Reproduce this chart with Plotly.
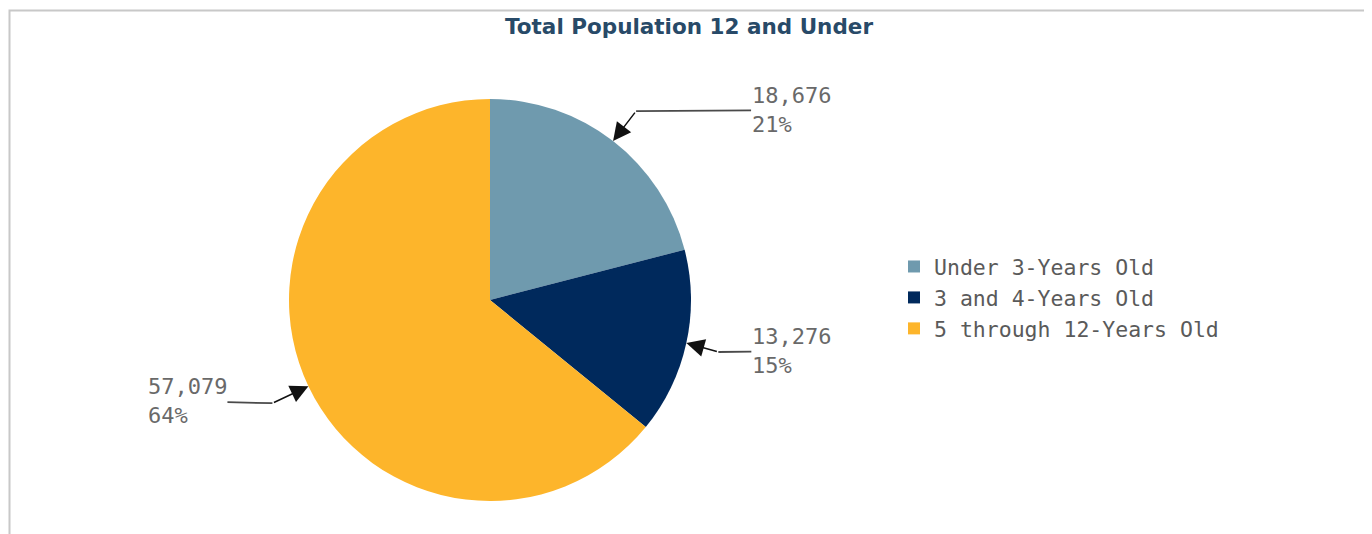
import math
import plotly.graph_objects as go

# ---- data ----
categories = ["Under 3-Years Old", "3 and 4-Years Old", "5 through 12-Years Old"]
values = [18676, 13276, 57079]
colors = ["#6f9aae", "#00295c", "#fdb52b"]
title_text = "Total Population 12 and Under"

# ---- layout constants (pixels in the page; the page body has an 8px margin) ----
W, H = 1372, 534
OX, OY = 8, 8
CX, CY, R = 490, 300, 201
# elbow offsets from arrow tip, and text-box offsets from elbow (label placement)
elbow_off = [(23, -30), (32, 9), (-36, 17)]
text_off = [(155, -1), (73, -1), (-85, -2)]

LABEL_FONT = dict(family="DejaVu Sans Mono", size=22, color="#696969")


def px(x):
    return (x - OX) / W


def py(y):
    return 1 - (y - OY) / H


fig = go.Figure()
fig.add_trace(go.Pie(
    labels=categories,
    values=values,
    marker=dict(colors=colors, line=dict(width=0)),
    sort=False,
    direction="clockwise",
    rotation=0,
    textinfo="none",
    hoverinfo="label+value+percent",
    domain=dict(x=[px(CX - R), px(CX + R)], y=[py(CY + R), py(CY - R)]),
))

total = sum(values)
cum = 0
annotations = []
for i, v in enumerate(values):
    mid = (cum + v / 2) / total * 2 * math.pi
    cum += v
    tx = CX + R * math.sin(mid)
    ty = CY - R * math.cos(mid)
    ex, ey = tx + elbow_off[i][0], ty + elbow_off[i][1]
    # arrow from elbow to slice edge
    annotations.append(dict(
        x=px(tx), y=py(ty), xref="paper", yref="paper",
        ax=elbow_off[i][0], ay=elbow_off[i][1],
        text="", showarrow=True, arrowhead=2, arrowsize=2.4,
        arrowwidth=1.5, arrowcolor="#111111", standoff=0,
    ))
    # label text with horizontal leader to the elbow
    annotations.append(dict(
        x=px(ex), y=py(ey), xref="paper", yref="paper",
        ax=text_off[i][0], ay=text_off[i][1],
        text=f"{v:,}<br>{round(100 * v / total)}%",
        align="left", font=LABEL_FONT,
        showarrow=True, arrowhead=0, arrowwidth=1.8, arrowcolor="#4a4a4a",
        standoff=0, borderpad=0,
    ))

fig.update_layout(
    width=W, height=H, autosize=False,
    margin=dict(l=0, r=0, t=0, b=0),
    paper_bgcolor="white", plot_bgcolor="white",
    title=dict(text=f"<b>{title_text}</b>", x=px(689), xanchor="center",
               y=py(26), yanchor="middle",
               font=dict(family="DejaVu Sans", size=21.5, color="#284a68")),
    showlegend=True,
    legend=dict(x=px(894), y=py(246), xanchor="left", yanchor="top",
                font=dict(family="DejaVu Sans Mono", size=21.5, color="#5a5a5a"),
                bgcolor="rgba(0,0,0,0)", itemwidth=30, tracegroupgap=0),
    annotations=annotations,
    shapes=[dict(type="rect", xref="paper", yref="paper",
                 x0=px(9.5), x1=px(1366), y0=-0.1, y1=py(10.5),
                 line=dict(color="#c8c8c8", width=2), fillcolor="rgba(0,0,0,0)")],
)

fig.write_html("out.html")
